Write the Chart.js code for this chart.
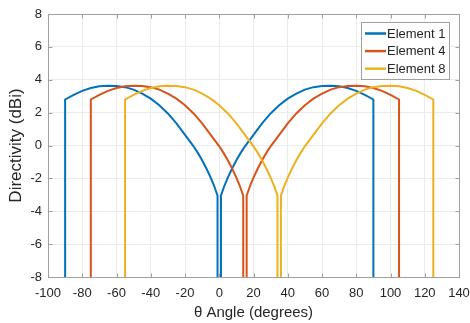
<!DOCTYPE html>
<html>
<head>
<meta charset="utf-8">
<script src="https://cdn.jsdelivr.net/npm/chart.js@4"></script>
<style>
  html, body { margin: 0; padding: 0; background: #fff; }
  #wrap { width: 470px; height: 323px; position: relative; }
</style>
</head>
<body>
<div id="wrap"><canvas id="myChart"></canvas></div>
<script>
// angles (deg) and directivity (dBi); -40 = below the axis floor
var seriesNames = ["Element 1", "Element 4", "Element 8"];
var seriesColors = ["#0072BD", "#D95319", "#EDB120"];

var angle1 = [-90,-90,-85,-80,-75,-70,-65,-60,-55,-50,-45,-40,-35,-30,-25,-20,-15,-12.5,-10,-7.5,-5,-3,-1,-1,
              1,1,3,5,7.5,10,12.5,15,20,25,30,35,40,45,50,55,60,65,70,75,80,85,90,90];
var dir1   = [-40,2.8,3.08,3.32,3.5,3.6,3.64,3.62,3.55,3.4,3.15,2.85,2.45,1.95,1.35,0.65,-0.05,-0.45,-0.9,-1.4,-1.95,-2.45,-3.05,-40,
              -40,-3.05,-2.45,-1.95,-1.4,-0.9,-0.45,-0.05,0.65,1.35,1.95,2.45,2.85,3.15,3.4,3.55,3.62,3.64,3.6,3.5,3.32,3.08,2.8,-40];

var angle4 = [-75,-75,-70,-65,-60,-55,-50,-45,-40,-35,-30,-25,-20,-15,-10,-5,0,2.5,5,7.5,10,12,14,14,
              16,16,18,20,22.5,25,27.5,30,35,40,45,50,55,60,65,70,75,80,85,90,95,100,105,105];
var dir4   = [-40,2.8,3.08,3.32,3.5,3.6,3.64,3.62,3.55,3.4,3.15,2.85,2.45,1.95,1.35,0.65,-0.05,-0.45,-0.9,-1.4,-1.95,-2.45,-3.05,-40,
              -40,-3.05,-2.45,-1.95,-1.4,-0.9,-0.45,-0.05,0.65,1.35,1.95,2.45,2.85,3.15,3.4,3.55,3.62,3.64,3.6,3.5,3.32,3.08,2.8,-40];

var angle8 = [-55,-55,-50,-45,-40,-35,-30,-25,-20,-15,-10,-5,0,5,10,15,20,22.5,25,27.5,30,32,34,34,
              36,36,38,40,42.5,45,47.5,50,55,60,65,70,75,80,85,90,95,100,105,110,115,120,125,125];
var dir8   = [-40,2.8,3.08,3.32,3.5,3.6,3.64,3.62,3.55,3.4,3.15,2.85,2.45,1.95,1.35,0.65,-0.05,-0.45,-0.9,-1.4,-1.95,-2.45,-3.05,-40,
              -40,-3.05,-2.45,-1.95,-1.4,-0.9,-0.45,-0.05,0.65,1.35,1.95,2.45,2.85,3.15,3.4,3.55,3.62,3.64,3.6,3.5,3.32,3.08,2.8,-40];

var xTicks = [-100,-80,-60,-40,-20,0,20,40,60,80,100,120,140];
var yTicks = [-8,-6,-4,-2,0,2,4,6,8];

function toPoints(xs, ys) {
    var pts = [];
    for (var i = 0; i < xs.length; i++) pts.push({x: xs[i], y: ys[i]});
    return pts;
}

var allAngles = [angle1, angle4, angle8];
var allDirs = [dir1, dir4, dir8];
var datasets = [];
for (var k = 0; k < seriesNames.length; k++) {
    datasets.push({
        label: seriesNames[k],
        data: toPoints(allAngles[k], allDirs[k]),
        borderColor: seriesColors[k],
        backgroundColor: seriesColors[k],
        borderWidth: 2,
        pointRadius: 0,
        showLine: true,
        fill: false,
        tension: 0,
        order: 3 - k
    });
}

var textColor = "#262626";
var axisColor = "#a0a0a0";
var fontFam = "'Liberation Sans', Arial, Helvetica, sans-serif";

// box around plot with inward ticks + legend inside the axes (top right)
var boxAndLegend = {
    id: "boxAndLegend",
    afterDraw: function (chart) {
        var ctx = chart.ctx, a = chart.chartArea;
        var L = Math.round(a.left) + 0.5, T = Math.round(a.top) + 0.5;
        var R = Math.round(a.right) + 0.5, B = Math.round(a.bottom) + 0.5;
        ctx.save();
        ctx.strokeStyle = axisColor;
        ctx.lineWidth = 1;
        ctx.strokeRect(L, T, R - L, B - T);
        ctx.beginPath();
        xTicks.forEach(function (v) {
            var px = Math.round(chart.scales.x.getPixelForValue(v)) + 0.5;
            ctx.moveTo(px, B); ctx.lineTo(px, B - 4);
            ctx.moveTo(px, T); ctx.lineTo(px, T + 4);
        });
        yTicks.forEach(function (v) {
            var py = Math.round(chart.scales.y.getPixelForValue(v)) + 0.5;
            ctx.moveTo(L, py); ctx.lineTo(L + 4, py);
            ctx.moveTo(R, py); ctx.lineTo(R - 4, py);
        });
        ctx.stroke();

        var lx = 361, ly = 22, lw = 88, lh = 57;
        ctx.fillStyle = "#fff";
        ctx.fillRect(lx, ly, lw, lh);
        ctx.strokeStyle = axisColor;
        ctx.strokeRect(lx + 0.5, ly + 0.5, lw, lh);
        ctx.font = "13px " + fontFam;
        ctx.textBaseline = "middle";
        var ds = chart.data.datasets;
        for (var i = 0; i < ds.length; i++) {
            var yy = ly + 11.5 + i * 17.6;
            ctx.strokeStyle = ds[i].borderColor;
            ctx.lineWidth = 2.5;
            ctx.beginPath();
            ctx.moveTo(365, yy);
            ctx.lineTo(386, yy);
            ctx.stroke();
            ctx.fillStyle = textColor;
            ctx.fillText(ds[i].label, 387, yy + 0.5);
        }
        ctx.restore();
    }
};

var ctx = document.getElementById("myChart");
var myChart = new Chart(ctx, {
    type: "scatter",
    data: { datasets: datasets },
    options: {
        responsive: true,
        maintainAspectRatio: false,
        animation: false,
        layout: { padding: { top: 14, right: 11, left: 0, bottom: 0 } },
        plugins: {
            legend: { display: false },
            tooltip: { enabled: false }
        },
        scales: {
            x: {
                type: "linear",
                min: -100, max: 140,
                afterBuildTicks: function (s) { s.ticks = xTicks.map(function (v) { return {value: v}; }); },
                afterFit: function (s) { s.height = 46; s.paddingLeft = 0; s.paddingRight = 0; },
                grid: { color: "#ebebeb", drawTicks: false },
                border: { display: false },
                ticks: { color: textColor, font: { family: fontFam, size: 13 }, padding: 9, maxRotation: 0 },
                title: { display: true, text: "\u03b8 Angle (degrees)", color: textColor,
                         font: { family: fontFam, size: 15 }, padding: { top: 0, bottom: 1 } }
            },
            y: {
                type: "linear",
                min: -8, max: 8,
                afterBuildTicks: function (s) { s.ticks = yTicks.map(function (v) { return {value: v}; }); },
                afterFit: function (s) { s.width = 48; s.paddingTop = 0; s.paddingBottom = 0; },
                grid: { color: "#ebebeb", drawTicks: false },
                border: { display: false },
                ticks: { color: textColor, font: { family: fontFam, size: 13 }, padding: 6 },
                title: { display: true, text: "Directivity (dBi)", color: textColor,
                         font: { family: fontFam, size: 17 }, padding: { top: 6, bottom: 0 } }
            }
        }
    },
    plugins: [boxAndLegend]
});
</script>
</body>
</html>
